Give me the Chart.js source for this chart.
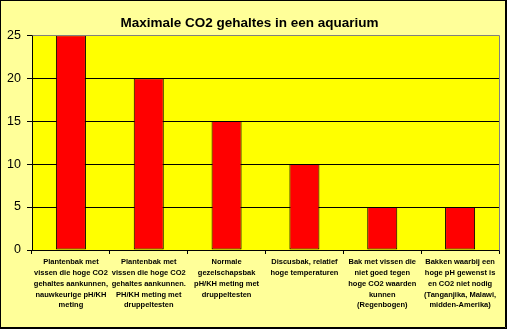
<!DOCTYPE html>
<html>
<head>
<meta charset="utf-8">
<script src="https://cdn.jsdelivr.net/npm/chart.js@4/dist/chart.umd.min.js"></script>
<style>
  html, body { margin: 0; padding: 0; background: #FFFF99; }
  #wrap { width: 507px; height: 329px; }
  canvas { display: block; }
</style>
</head>
<body>
<div id="wrap"><canvas id="c" width="507" height="329"></canvas></div>
<script>
// Aquarium types (multi-line category labels)
const categories = [
  ['Plantenbak met', 'vissen die hoge CO2', 'gehaltes aankunnen,', 'nauwkeurige pH/KH', 'meting'],
  ['Plantenbak met', 'vissen die hoge CO2', 'gehaltes aankunnen.', 'PH/KH meting met', 'druppeltesten'],
  ['Normale', 'gezelschapsbak', 'pH/KH meting met', 'druppeltesten'],
  ['Discusbak, relatief', 'hoge temperaturen'],
  ['Bak met vissen die', 'niet goed tegen', 'hoge CO2 waarden', 'kunnen', '(Regenbogen)'],
  ['Bakken waarbij een', 'hoge pH gewenst is', 'en CO2 niet nodig', '(Tanganjika, Malawi,', 'midden-Amerika)']
];
// Maximum CO2 level per aquarium type (mg/l)
const maxCO2 = [25, 20, 15, 10, 5, 5];
// Value axis ticks
const yTicks = [0, 5, 10, 15, 20, 25];

const FONT = "'Liberation Sans', Arial, sans-serif";

// Chart area / plot area backgrounds and frame
const frame = {
  id: 'frame',
  beforeDraw(chart) {
    const { ctx, chartArea: a, width, height } = chart;
    ctx.save();
    ctx.fillStyle = '#FFFF99';
    ctx.fillRect(0, 0, width, height);
    ctx.fillStyle = '#FFFF00';
    ctx.fillRect(a.left, a.top, a.right - a.left, a.bottom - a.top);
    ctx.restore();
  },
  afterDraw(chart) {
    const { ctx, chartArea: a, width, height } = chart;
    ctx.save();
    ctx.strokeStyle = '#808080';
    ctx.lineWidth = 1;
    ctx.beginPath();
    ctx.moveTo(Math.round(a.left) + 0.5, Math.round(a.top) + 0.5);
    ctx.lineTo(Math.round(a.right) + 0.5, Math.round(a.top) + 0.5);
    ctx.lineTo(Math.round(a.right) + 0.5, Math.round(a.bottom) + 0.5);
    ctx.stroke();
    ctx.strokeStyle = '#000000';
    ctx.lineWidth = 1;
    ctx.strokeRect(0.5, 0.5, width - 1, height - 1);
    ctx.beginPath();
    ctx.moveTo(width - 1.5, 1);
    ctx.lineTo(width - 1.5, height - 1.5);
    ctx.lineTo(1, height - 1.5);
    ctx.stroke();
    ctx.restore();
  }
};

new Chart(document.getElementById('c'), {
  type: 'bar',
  data: {
    labels: categories,
    datasets: [{
      data: maxCO2,
      backgroundColor: '#FF0000',
      borderColor: '#000000',
      borderWidth: 1,
      borderSkipped: false,
      barPercentage: 0.386,
      categoryPercentage: 1
    }]
  },
  options: {
    responsive: false,
    animation: false,
    devicePixelRatio: 1,
    layout: { padding: { left: 0, right: 8, top: 0, bottom: 0 } },
    plugins: {
      legend: { display: false },
      tooltip: { enabled: false },
      title: {
        display: true,
        text: 'Maximale CO2 gehaltes in een aquarium',
        color: '#000000',
        font: { family: FONT, size: 13.5, weight: 'bold', lineHeight: 1.2 },
        padding: { top: 15, bottom: 4 }
      }
    },
    scales: {
      x: {
        offset: true,
        grid: {
          offset: true,
          drawOnChartArea: false,
          drawTicks: true,
          tickLength: 4,
          tickColor: '#000000'
        },
        border: { color: '#000000', width: 1 },
        ticks: {
          color: '#000000',
          autoSkip: false,
          maxRotation: 0,
          minRotation: 0,
          padding: 3,
          font: { family: FONT, size: 7.5, weight: 'bold', lineHeight: 1.43 }
        },
        afterFit(scale) { scale.height = 79; }
      },
      y: {
        min: 0,
        max: 25,
        afterBuildTicks(scale) { scale.ticks = yTicks.map(v => ({ value: v })); },
        grid: {
          color: (c) => (c.tick && c.tick.value === 25 ? '#808080' : '#000000'),
          tickColor: '#000000',
          tickLength: 5,
          lineWidth: 1
        },
        border: { color: '#000000', width: 1 },
        ticks: {
          color: '#000000',
          padding: 6,
          font: { family: FONT, size: 12.5 }
        },
        afterFit(scale) { scale.width = 32; }
      }
    }
  },
  plugins: [frame]
});
</script>
</body>
</html>
